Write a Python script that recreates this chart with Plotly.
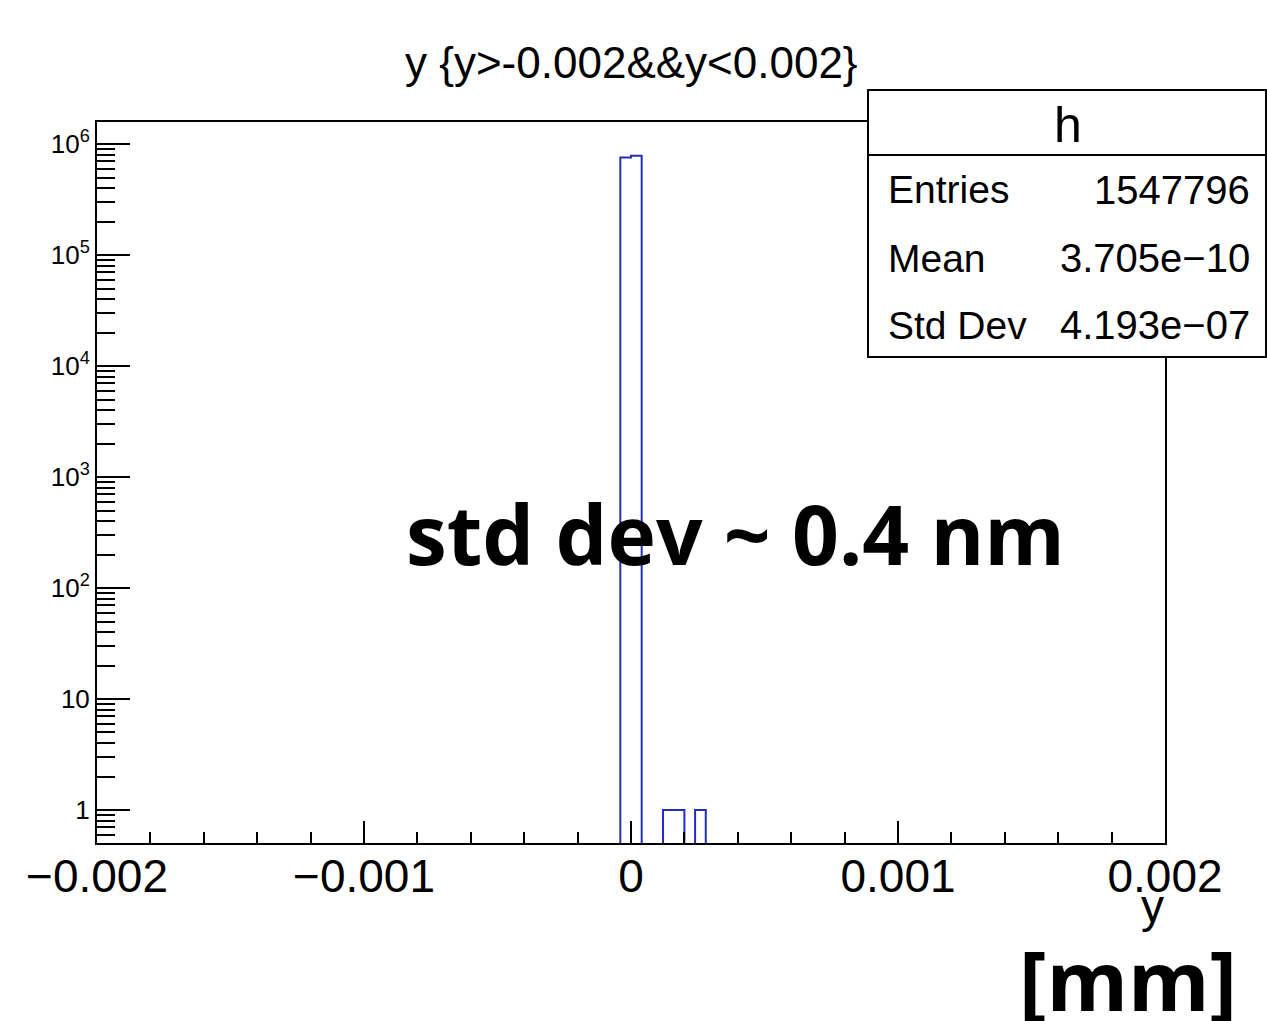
import plotly.graph_objects as go

# ---- data ----
x_min, x_max = -0.002, 0.002
bin_width = 0.00004
bin_low_edges = [-0.00004, 0.0, 0.00012, 0.00016, 0.00024]
bin_counts = [760000, 787793, 1, 1, 1]
empty_level = 1e-3  # zero-content bins drawn below the visible range

y_tickvals = [1, 10, 100, 1000, 10000, 100000, 1000000]
y_ticktext = ["1", "10", "10<sup>2</sup>", "10<sup>3</sup>", "10<sup>4</sup>", "10<sup>5</sup>", "10<sup>6</sup>"]
x_tickvals = [-0.002, -0.001, 0.0, 0.001, 0.002]
x_ticktext = ["\u22120.002", "\u22120.001", "0", "0.001", "0.002"]

title_text = "y {y>-0.002&&y<0.002}"
stats_name = "h"
stats_labels = ["Entries", "Mean", "Std Dev"]
stats_values = ["1547796", "3.705e\u221210", "4.193e\u221207"]

# ---- build step outline ----
xs, ys = [x_min], [empty_level]
for lo, c in sorted(zip(bin_low_edges, bin_counts)):
    if abs(xs[-1] - lo) > 1e-12:
        xs.append(xs[-1]); ys.append(empty_level)
        xs.append(lo); ys.append(empty_level)
    xs.append(lo); ys.append(c)
    xs.append(lo + bin_width); ys.append(c)
xs.append(xs[-1]); ys.append(empty_level)
xs.append(x_max); ys.append(empty_level)

fig = go.Figure()
fig.add_trace(go.Scatter(x=xs, y=ys, mode="lines",
                         line=dict(color="rgb(35,45,190)", width=2),
                         hoverinfo="skip", showlegend=False))

W, H = 1267, 1021
L, R, T, B = 97, 1165, 122, 843
def px(x): return (x - L) / (R - L)
def py(y): return (B - y) / (B - T)

font = "Liberation Sans, Arial, sans-serif"
bold_font = "Open Sans, sans-serif"

fig.update_layout(
    width=W, height=H,
    margin=dict(l=L, r=W - R, t=T, b=H - B, pad=0),
    plot_bgcolor="white", paper_bgcolor="white",
    showlegend=False,
    font=dict(family=font, color="black"),
    xaxis=dict(range=[x_min, x_max], showgrid=False, zeroline=False,
               showline=True, linecolor="black", linewidth=2, mirror=True,
               ticks="inside", ticklen=22, tickwidth=2, tickcolor="black",
               tickvals=x_tickvals, ticktext=x_ticktext,
               tickfont=dict(size=46, family=font),
               ticklabelstandoff=-8,
               minor=dict(ticks="inside", ticklen=11, tickwidth=2, dtick=0.0002, tickcolor="black")),
    yaxis=dict(type="log", range=[-0.297, 6.2], showgrid=False, zeroline=False,
               showline=True, linecolor="black", linewidth=2, mirror=True,
               ticks="inside", ticklen=33, tickwidth=2, tickcolor="black",
               tickvals=y_tickvals, ticktext=y_ticktext,
               tickfont=dict(size=26, family=font),
               minor=dict(ticks="inside", ticklen=18, tickwidth=2, dtick="D1", tickcolor="black")),
)

# stats box
bx0, bx1, by0, by1 = 868, 1266, 357, 90
fig.add_shape(type="rect", xref="paper", yref="paper",
              x0=px(bx0), x1=px(bx1), y0=py(by0), y1=py(by1),
              line=dict(color="black", width=2), fillcolor="white", layer="above")
fig.add_shape(type="line", xref="paper", yref="paper",
              x0=px(bx0), x1=px(bx1), y0=py(155), y1=py(155),
              line=dict(color="black", width=2), layer="above")

ann = []
ann.append(dict(text=title_text, x=px(631), y=py(62), xref="paper", yref="paper",
                showarrow=False, font=dict(size=44, family=font), xanchor="center", yanchor="middle"))
ann.append(dict(text=stats_name, x=px(1068), y=py(125), xref="paper", yref="paper",
                showarrow=False, font=dict(size=50, family=font), xanchor="center", yanchor="middle"))
for lab, val, yy in zip(stats_labels, stats_values, [190, 258, 325]):
    ann.append(dict(text=lab, x=px(886), y=py(yy), xref="paper", yref="paper",
                    showarrow=False, font=dict(size=39, family=font), xanchor="left", yanchor="middle"))
    ann.append(dict(text=val, x=px(1252), y=py(yy), xref="paper", yref="paper",
                    showarrow=False, font=dict(size=40, family=font), xanchor="right", yanchor="middle"))
ann.append(dict(text="y", x=px(1166), y=py(906), xref="paper", yref="paper",
                showarrow=False, font=dict(size=46, family=font), xanchor="right", yanchor="middle"))
ann.append(dict(text="<b>std dev ~ 0.4 nm</b>", x=px(735), y=py(533), xref="paper", yref="paper",
                showarrow=False, font=dict(size=82, family=bold_font), xanchor="center", yanchor="middle"))
ann.append(dict(text="<b>[mm]</b>", x=px(1128), y=py(979), xref="paper", yref="paper",
                showarrow=False, font=dict(size=83, family=bold_font), xanchor="center", yanchor="middle"))
fig.update_layout(annotations=ann)

fig.write_html("out.html")
